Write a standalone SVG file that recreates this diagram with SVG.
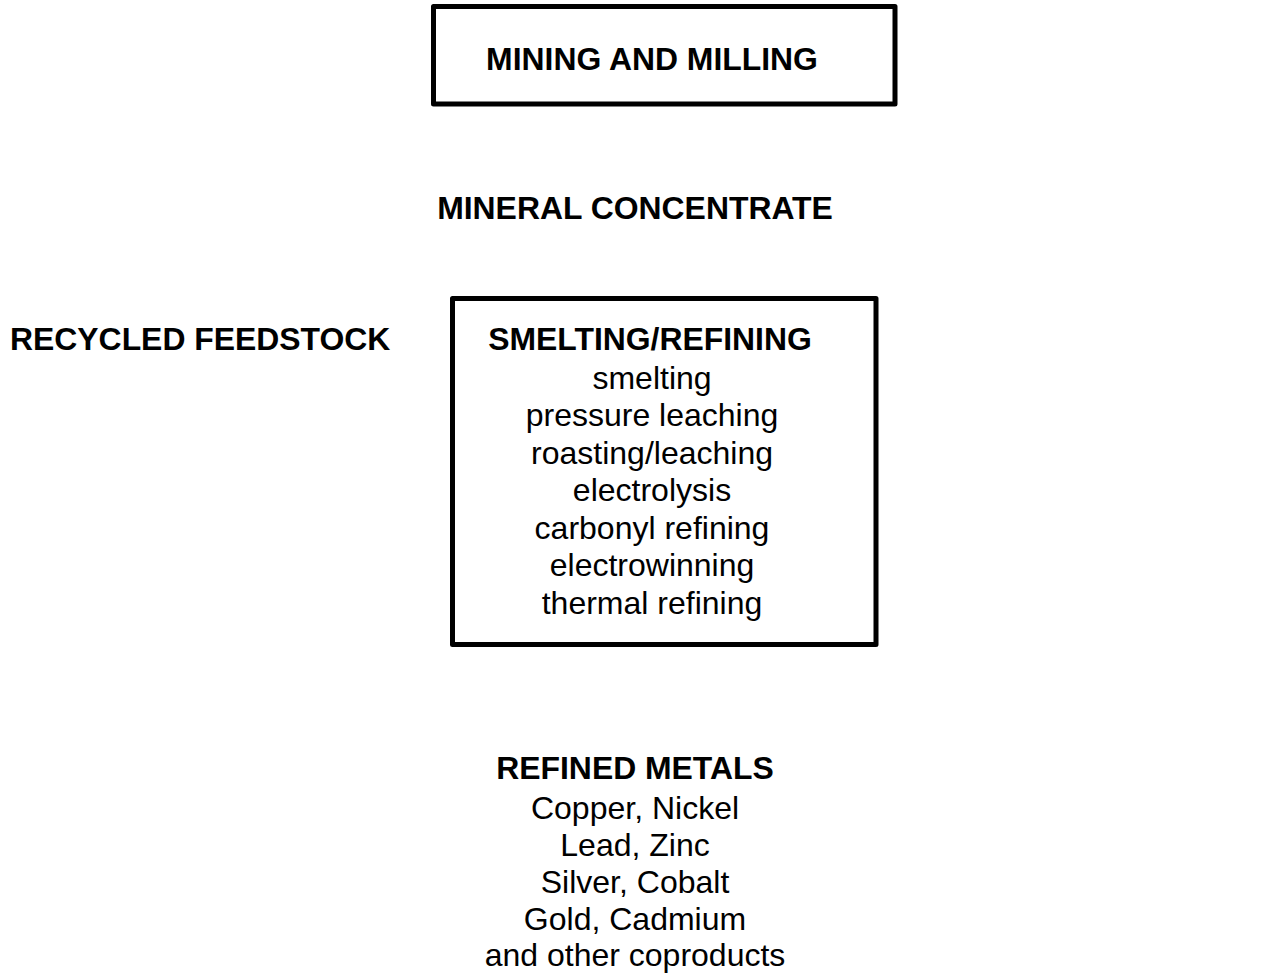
<svg xmlns="http://www.w3.org/2000/svg" width="1270" height="974" viewBox="0 0 1270 974">
  <style>
    .box { fill: #ffffff; stroke: #000000; stroke-width: 5; stroke-linejoin: round; }
    .hd { font-family: "Liberation Sans", Arial, sans-serif; font-size: 31.9px; font-weight: bold; fill: #000000; }
    .tx { font-family: "Liberation Sans", Arial, sans-serif; font-size: 32px; fill: #000000; }
    .c { text-anchor: middle; }
  </style>
  <rect width="1270" height="974" fill="#ffffff"/>

  <g id="mining-milling">
    <rect class="box" x="433.5" y="6.5" width="461.5" height="97.5"/>
    <text class="hd c" x="652" y="69.5">MINING AND MILLING</text>
  </g>

  <g id="mineral-concentrate">
    <text class="hd c" x="635" y="218.5">MINERAL CONCENTRATE</text>
  </g>

  <g id="recycled-feedstock">
    <text class="hd" x="10" y="349.5">RECYCLED FEEDSTOCK</text>
  </g>

  <g id="smelting-refining">
    <rect class="box" x="452.5" y="298.5" width="423.5" height="346"/>
    <text class="hd c" x="650" y="349.5">SMELTING/REFINING</text>
    <text class="tx c" x="652" y="388.5">smelting</text>
    <text class="tx c" x="652" y="426">pressure leaching</text>
    <text class="tx c" x="652" y="463.5">roasting/leaching</text>
    <text class="tx c" x="652" y="501">electrolysis</text>
    <text class="tx c" x="652" y="538.5">carbonyl refining</text>
    <text class="tx c" x="652" y="576">electrowinning</text>
    <text class="tx c" x="652" y="613.5">thermal refining</text>
  </g>

  <g id="refined-metals">
    <text class="hd c" x="635" y="779">REFINED METALS</text>
    <text class="tx c" x="635" y="818.5">Copper, Nickel</text>
    <text class="tx c" x="635" y="855.5">Lead, Zinc</text>
    <text class="tx c" x="635" y="892.5">Silver, Cobalt</text>
    <text class="tx c" x="635" y="929.5">Gold, Cadmium</text>
    <text class="tx c" x="635" y="966">and other coproducts</text>
  </g>

  <g id="connectors"></g>
</svg>
